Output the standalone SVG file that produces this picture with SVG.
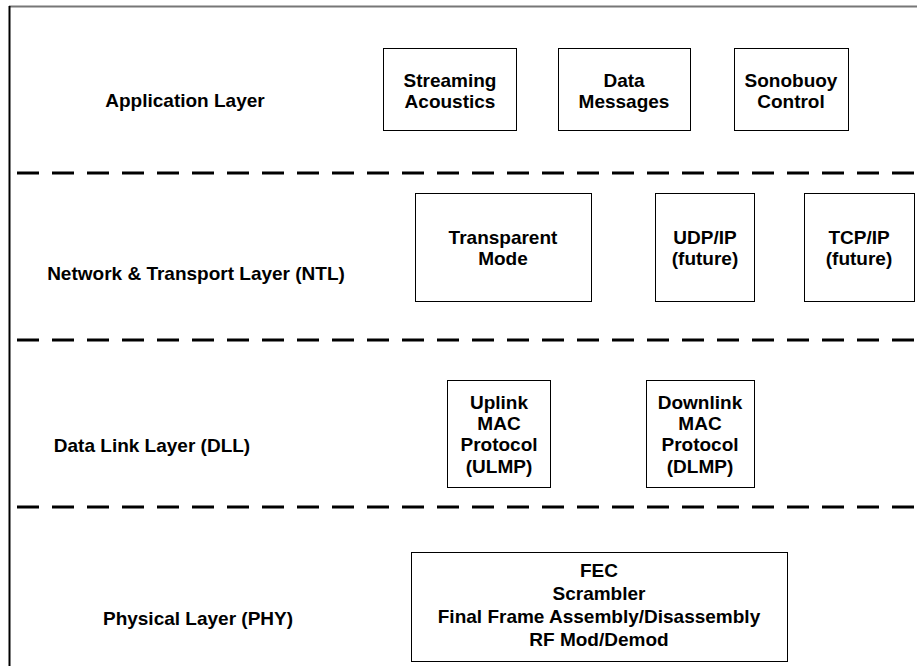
<svg xmlns="http://www.w3.org/2000/svg" width="917" height="666" viewBox="0 0 917 666">
  <style>
    .lbl { font-family: "Liberation Sans", Arial, sans-serif; font-weight: bold; font-size: 19px; fill: #000; text-anchor: middle; }
    .box { fill: #fff; stroke: #000; stroke-width: 1; }
    .sep { stroke: #000; stroke-width: 3; stroke-dasharray: 22 13; fill: none; }
  </style>
  <rect width="917" height="666" fill="#fff"/>
  <!-- frame -->
  <line x1="9" y1="6.5" x2="917" y2="6.5" stroke="#777" stroke-width="2"/>
  <line x1="9.5" y1="6" x2="9.5" y2="666" stroke="#000" stroke-width="2"/>
  <!-- layer separators -->
  <g id="separators">
    <line class="sep" x1="17" y1="173" x2="917" y2="173"/>
    <line class="sep" x1="17" y1="340" x2="917" y2="340"/>
    <line class="sep" x1="17" y1="507" x2="917" y2="507"/>
  </g>
  <!-- layer names -->
  <g id="layer-names">
    <text class="lbl" x="185" y="107">Application Layer</text>
    <text class="lbl" x="196" y="280">Network &amp; Transport Layer (NTL)</text>
    <text class="lbl" x="152" y="452">Data Link Layer (DLL)</text>
    <text class="lbl" x="198" y="625">Physical Layer (PHY)</text>
  </g>
  <!-- application layer -->
  <g id="streaming">
    <rect class="box" x="383.5" y="48.5" width="133" height="82"/>
    <text class="lbl" x="450" y="87">Streaming</text>
    <text class="lbl" x="450" y="108">Acoustics</text>
  </g>
  <g id="data-messages">
    <rect class="box" x="558.5" y="48.5" width="132" height="82"/>
    <text class="lbl" x="624" y="87">Data</text>
    <text class="lbl" x="624" y="108">Messages</text>
  </g>
  <g id="sonobuoy">
    <rect class="box" x="734.5" y="48.5" width="114" height="82"/>
    <text class="lbl" x="791" y="87">Sonobuoy</text>
    <text class="lbl" x="791" y="108">Control</text>
  </g>
  <!-- network & transport layer -->
  <g id="transparent">
    <rect class="box" x="415.5" y="193.5" width="176" height="108"/>
    <text class="lbl" x="503" y="244">Transparent</text>
    <text class="lbl" x="503" y="265">Mode</text>
  </g>
  <g id="udp">
    <rect class="box" x="655.5" y="193.5" width="99" height="108"/>
    <text class="lbl" x="705" y="244">UDP/IP</text>
    <text class="lbl" x="705" y="265">(future)</text>
  </g>
  <g id="tcp">
    <rect class="box" x="804.5" y="193.5" width="110" height="108"/>
    <text class="lbl" x="859" y="244">TCP/IP</text>
    <text class="lbl" x="859" y="265">(future)</text>
  </g>
  <!-- data link layer -->
  <g id="ulmp">
    <rect class="box" x="447.5" y="380.5" width="103" height="107"/>
    <text class="lbl" x="499" y="409">Uplink</text>
    <text class="lbl" x="499" y="430">MAC</text>
    <text class="lbl" x="499" y="451">Protocol</text>
    <text class="lbl" x="499" y="473">(ULMP)</text>
  </g>
  <g id="dlmp">
    <rect class="box" x="646.5" y="380.5" width="108" height="107"/>
    <text class="lbl" x="700" y="409">Downlink</text>
    <text class="lbl" x="700" y="430">MAC</text>
    <text class="lbl" x="700" y="451">Protocol</text>
    <text class="lbl" x="700" y="473">(DLMP)</text>
  </g>
  <!-- physical layer -->
  <g id="phy">
    <rect class="box" x="411.5" y="552.5" width="376" height="109"/>
    <text class="lbl" x="599" y="577">FEC</text>
    <text class="lbl" x="599" y="600">Scrambler</text>
    <text class="lbl" x="599" y="623">Final Frame Assembly/Disassembly</text>
    <text class="lbl" x="599" y="646">RF Mod/Demod</text>
  </g>
</svg>
